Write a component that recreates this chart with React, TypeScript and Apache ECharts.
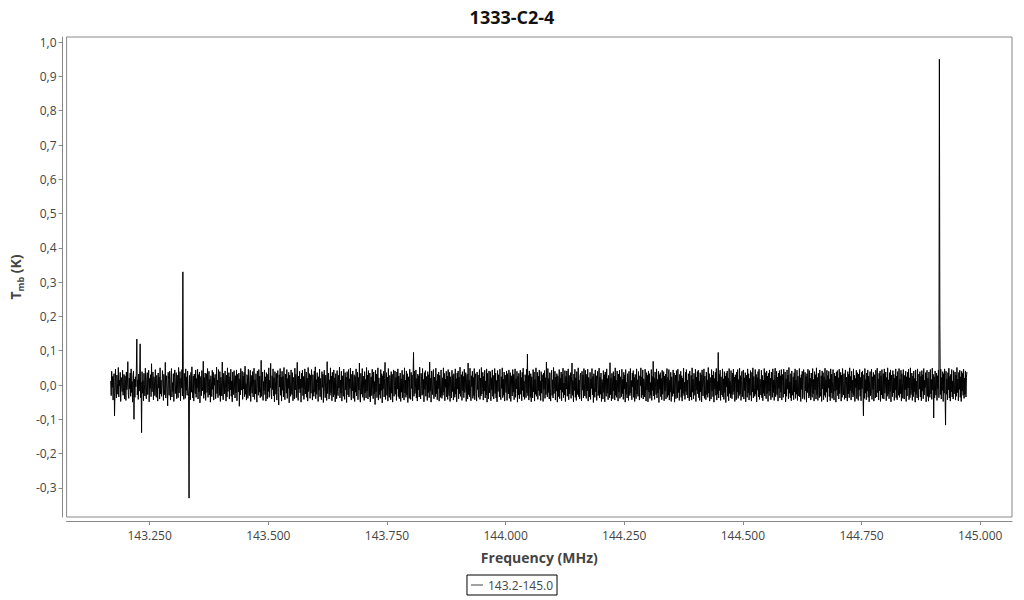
import React, { useEffect, useRef } from "react";
import * as echarts from "echarts";

// Spectrum sampling (channel frequencies in MHz)
const freqStart = 143.168;
const freqStep = 0.001;

// Main-beam temperature, in mK, read channel by channel (segments of 200 channels)
const tmbSegA = [
  12,-31,40,-7,25,-44,18,33,-90,-21, 46,-12,-38,29,5,-27,51,-35,14,-3,
  37,-48,22,9,-19,43,-30,-8,31,-41, 27,16,-45,38,-14,3,68,-26,-39,20,
  -11,35,-33,47,-22,10,-50,28,41,-100, 17,-36,24,-5,44,134,-29,15,-42,32,
  -18,26,120,-37,8,-139,39,-24,13,-46, 34,2,-32,49,-15,-40,21,36,-28,6,
  43,-49,19,-10,30,-34,62,-20,-2,38, -43,24,11,-31,45,-17,-36,28,4,-47,
  35,-9,23,-41,50,-26,14,-33,-6,42, 18,-45,31,-13,-29,66,-38,9,27,-22,
  -61,37,16,-30,40,-11,-44,25,48,-35, 7,-19,33,-48,21,44,-25,-3,36,-40,
  29,-14,-37,51,-23,12,39,-46,20,-8, 45,-32,330,-27,-42,34,10,-39,47,-16,
  24,-30,41,-5,-34,-330,28,15,-43,37, -21,53,-12,-38,26,-47,32,3,-25,44,
  -36,19,-9,46,-41,30,-20,38,-52,13, 25,-31,42,-17,-4,69,-39,22,-27,35,
];
const tmbSegB = [
  -45,11,33,-22,48,-36,-7,40,-29,17, -50,27,6,-34,43,-13,37,-44,21,-1,
  31,-40,-18,52,-25,14,-37,45,-9,-30, 39,-48,23,8,-32,67,-21,-43,34,16,
  -26,41,-11,-47,29,-35,50,-19,2,36, -41,24,-14,46,-33,12,-49,38,19,-28,
  42,-6,-38,27,-23,44,-46,31,9,-20, 35,-62,18,-29,48,-15,-3,40,-42,26,
  -12,37,-34,55,-27,4,-44,30,22,-39, 46,-17,-31,13,43,-48,28,-8,-24,39,
  -35,20,49,-42,15,-26,33,-11,-50,41, 7,-30,45,-21,26,-37,-4,72,-33,18,
  38,-45,10,-16,44,-28,24,-47,36,1, -40,31,-19,50,-36,14,-9,63,-25,-41,
  27,-13,47,-32,21,-49,39,6,-27,34, -44,16,42,-22,-58,30,-6,48,-30,23,
  -47,40,-15,25,-35,51,-18,-43,32,11, -24,45,-39,19,-10,37,-52,29,8,-33,
  44,-20,-28,36,-46,22,13,-41,49,-14, 31,-37,3,66,-29,-45,26,-12,40,-23,
];
const tmbSegC = [
  17,-50,34,-8,43,-31,25,-42,-16,47, -26,9,38,-36,20,-47,51,-19,-5,33,
  -39,28,-24,45,12,-44,30,-11,-33,41, -21,53,-40,16,-27,36,4,-48,24,-15,
  46,-34,19,-29,-43,39,-7,31,-51,22, 43,-18,-37,29,10,-45,68,-25,-2,35,
  -41,15,-30,50,-22,26,-46,37,-12,-35, 44,-28,21,-49,33,5,-40,42,-19,-31,
  28,-9,52,-38,14,-24,40,-47,27,-6, -33,46,-20,-42,36,-14,23,-51,39,11,
  -29,45,-35,18,-10,49,-26,-44,31,-17, 41,-39,8,30,-48,25,-21,47,-32,-4,
  37,-43,22,-15,64,-30,-50,34,13,-27, 48,-36,26,-9,-45,39,-23,16,-38,51,
  -18,29,-41,42,-7,-34,35,-49,20,24, -31,46,-13,-40,38,-26,10,-57,43,-20,
  32,-37,15,50,-44,21,-28,3,-39,45, -16,33,-52,27,-11,40,-35,19,66,-42,
  -8,36,-30,23,-47,48,-19,-36,28,12, -43,39,-24,31,-50,17,44,-33,-1,41,
];
const tmbSegD = [
  -27,22,-45,38,-12,47,-34,26,-40,9, 35,-48,18,-21,43,-37,30,-6,-44,50,
  -23,14,-36,41,-29,33,-51,24,8,-39, 46,-17,-42,37,-10,29,-46,21,95,-33,
  40,-25,-8,44,-38,19,-47,32,-14,27, -35,52,-20,-41,34,11,-30,48,-27,16,
  -49,36,-13,42,-33,25,-4,-45,39,-22, 30,-37,67,-18,20,-50,41,-9,-28,35,
  45,-40,23,-16,-34,49,-26,13,-43,31, -11,38,-47,28,6,-36,44,-24,-39,21,
  -30,50,-21,34,-46,17,-7,40,-35,26, -42,45,-15,-31,37,-48,24,10,-38,43,
  -19,28,-44,33,-2,-36,47,-27,19,-49, 35,-12,41,-40,23,-25,52,-33,-8,30,
  -45,39,-17,25,-37,46,-22,-9,36,-48, 18,31,-41,64,-28,14,-34,49,-20,-46,
  27,-5,40,-39,22,-31,48,-43,15,33, -24,-47,38,-13,29,-36,6,45,-42,20,
  -32,51,-26,-11,37,-44,26,-18,43,-38, 12,-29,47,-50,34,-3,-40,41,-23,16,
];
const tmbSegE = [
  39,-46,21,-14,44,-33,28,-41,-7,48, -25,35,-38,13,-49,42,-19,30,3,-35,
  46,-28,-43,24,-10,50,-37,17,-30,38, -47,29,9,-22,41,-45,33,-15,-26,44,
  -39,20,36,-48,27,-6,-32,45,-21,31, -43,14,47,-36,18,-11,40,-50,25,-29,
  34,-40,-4,43,-27,22,-46,37,-16,49, -34,11,-42,30,19,-37,46,-23,90,-31,
  28,-44,41,-12,-36,33,-49,24,5,-38, 45,-20,38,-47,16,-27,50,-33,-9,37,
  -42,26,-17,44,-31,12,-45,39,-24,30, 8,-48,35,-13,42,-39,21,-28,67,-6,
  -35,48,-22,19,-41,36,-11,-47,29,43, -30,15,-38,51,-25,-3,40,-44,23,-18,
  33,-50,27,10,-34,45,-40,20,-14,38, -46,31,-21,49,-37,6,-29,42,-48,25,
  -12,41,-33,17,47,-43,28,-26,-8,36, -39,24,64,-30,13,-49,32,-16,46,-36,
  21,-45,39,-7,-28,50,-34,14,-41,27, 35,-23,-46,40,-15,29,-38,48,4,-32,
];
const tmbSegF = [
  43,-26,-39,31,-17,46,-47,22,9,-35, 37,-42,18,-10,48,-29,25,-51,33,-4,
  -36,44,-20,27,-45,12,40,-31,-14,49, -38,23,-27,35,-48,16,6,-41,42,-22,
  30,-49,38,-15,-33,47,-24,19,-43,28, -3,-37,65,-28,21,-46,34,11,-40,39,
  -18,26,-44,50,-30,14,-36,41,-9,-47, 32,-21,43,-39,24,2,-34,46,-25,17,
  -42,37,-12,29,-50,45,-27,8,-38,33, 20,-45,40,-16,-31,48,-23,13,-43,35,
  -6,42,-36,22,-48,31,-19,-40,47,-26, 15,-33,39,-11,-44,27,-2,50,-37,24,
  -29,44,-41,18,10,-35,46,-24,-47,36, -14,28,-49,41,-20,33,-39,7,-30,45,
  -45,25,-16,69,-32,21,-42,38,-8,-28, 47,-38,16,-23,40,-51,30,-13,36,-34,
  19,-43,43,-27,-5,39,-46,26,-18,32, -41,11,48,-36,22,-30,45,-44,14,-21,
  37,-48,24,-9,-33,44,-25,35,-50,18, 29,-40,42,-17,-37,46,-22,12,-45,31,
];
const tmbSegG = [
  -13,40,-36,27,-47,20,-24,49,-31,8, -42,37,-19,45,-29,14,-38,33,25,-46,
  41,-11,-35,28,-44,50,-21,17,-40,34, -7,-30,46,-48,23,-15,39,-26,43,-37,
  12,-45,36,-20,30,-49,44,-3,-32,21, 47,-39,26,-14,-43,38,-28,15,-36,51,
  -24,33,-47,22,4,-41,45,-18,29,-34, 40,-50,19,-12,37,-30,48,-44,10,-27,
  95,-38,31,-16,43,-45,24,-9,-29,47, -35,18,-42,39,-22,26,-51,34,-6,41,
  -33,20,-46,48,-25,11,-37,42,-14,-40, 35,-28,46,-19,23,-48,30,2,-43,38,
  -21,45,-39,16,-31,49,-26,27,-45,13, 40,-34,-10,44,-41,21,-17,36,-49,29,
  8,-36,47,-23,33,-44,19,-30,42,-12, -47,37,-20,50,-38,25,-8,-33,45,-27,
  31,-49,22,-15,39,-35,46,-42,17,5, -29,43,-37,28,-46,14,-24,48,-32,36,
  -11,-40,41,-25,26,-48,34,-18,44,-31, 20,-43,38,-7,-36,47,-22,15,-45,30,
];
const tmbSegH = [
  49,-34,-16,40,-28,23,-47,35,-10,42, -38,27,-21,45,-44,12,31,-36,46,-19,
  -26,38,-49,18,-33,44,-12,29,-41,51, -24,9,-37,33,-46,41,-15,-30,24,-43,
  36,-20,47,-39,14,-27,43,-45,26,-6, -32,48,-35,21,-48,30,-13,40,-40,19,
  45,-29,-42,37,-17,25,-50,33,-22,46, 11,-38,42,-31,20,-44,35,-8,-36,48,
  -25,16,-47,39,-14,30,-41,50,-28,22, -45,34,3,-37,44,-19,-33,27,-48,41,
  -11,36,-43,24,-30,49,-36,15,-21,43, -49,28,-9,40,-34,18,-46,47,-23,32,
  -39,10,45,-27,-44,35,-18,26,-50,38, -15,42,-31,21,-41,46,-25,-4,37,-47,
  29,-36,48,-20,-29,33,-42,17,44,-38, 23,-12,-47,39,-26,31,-37,50,-16,25,
  -44,40,-23,14,-35,47,-30,28,-48,19, -8,43,-40,36,-21,-45,32,-14,45,-33,
  22,-46,37,-11,41,-27,-90,30,-39,48, -24,16,-43,35,-18,44,-36,26,-49,13,
];
const tmbSegI = [
  39,-31,-20,46,-42,24,-13,37,-47,30, 9,-38,43,-26,-35,49,-22,18,-44,34,
  -17,41,-48,27,-29,45,-39,12,33,-41, 47,-24,-10,38,-46,22,-33,50,-27,15,
  -40,36,-19,44,-49,29,-6,-34,42,-23, 31,-45,20,-15,47,-37,26,-43,39,-12,
  -30,48,-36,17,-25,43,-47,33,5,-39, 45,-21,-41,28,-14,40,-48,24,-32,37,
  -9,46,-43,21,-37,50,-28,-16,35,-45, 26,-34,41,-20,19,-50,44,-27,11,-38,
  47,-23,-44,32,-12,39,-35,25,-46,42, -18,30,-40,48,-29,14,-7,36,-49,27,
  43,-33,20,-47,38,-21,-36,45,-26,16, -42,49,-15,31,-96,24,-38,41,-19,-30,
  35,-45,27,-11,44,-37,950,180,-28,46, -41,22,-16,39,-48,33,-24,47,-32,-117,
  40,-27,18,-43,36,-14,49,-38,25,-47, 31,-20,45,-35,12,-41,42,-26,-9,38,
  -44,29,-33,51,-22,17,-46,37,-13,43, -36,24,-48,40,-18,34,-30,46,-39,20,
];
const tmbSegJ = [-27,41,-35,23,38];

const seriesName = "143.2-145.0";
const xTicks = [143.25, 143.5, 143.75, 144.0, 144.25, 144.5, 144.75, 145.0];
const yTicks = [-0.3, -0.2, -0.1, 0.0, 0.1, 0.2, 0.3, 0.4, 0.5, 0.6, 0.7, 0.8, 0.9, 1.0];

const FONT = "'Open Sans', 'Noto Sans', sans-serif";

export default function App() {
  const ref = useRef<HTMLDivElement>(null);
  useEffect(() => {
    if (!ref.current) return;
    const chart = echarts.init(ref.current, undefined, { renderer: "svg" });
    const all = [
      ...tmbSegA, ...tmbSegB, ...tmbSegC, ...tmbSegD, ...tmbSegE,
      ...tmbSegF, ...tmbSegG, ...tmbSegH, ...tmbSegI, ...tmbSegJ,
    ];
    const data = all.map((v, i) => [freqStart + i * freqStep, v / 1000]);
    chart.setOption({
      animation: false,
      textStyle: { fontFamily: FONT },
      title: {
        text: "1333-C2-4",
        left: "center",
        top: 3,
        textStyle: { fontFamily: FONT, fontSize: 18, fontWeight: "bold", color: "#111" },
      },
      grid: {
        left: 66,
        top: 37,
        right: 12,
        bottom: 83,
        show: true,
        borderColor: "#888",
        borderWidth: 1,
        backgroundColor: "transparent",
      },
      legend: {
        data: [seriesName],
        left: "center",
        top: 575,
        borderColor: "#000",
        borderWidth: 1,
        padding: [4, 4],
        itemWidth: 12,
        itemHeight: 8,
        icon: "path://M0,0H12V1H0Z",
        itemStyle: { color: "#444" },
        textStyle: { fontFamily: FONT, fontSize: 12, color: "#444" },
      },
      xAxis: {
        type: "value",
        min: 143.075,
        max: 145.067,
        offset: 4,
        name: "Frequency (MHz)",
        nameLocation: "middle",
        nameGap: 29,
        nameTextStyle: { fontFamily: FONT, fontSize: 14, fontWeight: "bold", color: "#444" },
        axisLine: { show: true, onZero: false, lineStyle: { color: "#888", width: 1 } },
        axisTick: { show: true, length: 4, customValues: xTicks, lineStyle: { color: "#888" } },
        axisLabel: {
          customValues: xTicks,
          margin: 8,
          color: "#444",
          fontSize: 12,
          fontFamily: FONT,
          formatter: (v: number) => v.toFixed(3),
        },
        splitLine: { show: false },
      },
      yAxis: {
        type: "value",
        min: -0.385,
        max: 1.015,
        offset: 4,
        name: "{t|T}{s|mb}{t| (K)}",
        nameLocation: "middle",
        nameRotate: 90,
        nameGap: 24,
        nameTextStyle: {
          fontFamily: FONT,
          color: "#444",
          rich: {
            t: { fontFamily: FONT, fontSize: 14, fontWeight: "bold", color: "#444", lineHeight: 20, verticalAlign: "middle" },
            s: { fontFamily: FONT, fontSize: 9, fontWeight: "bold", color: "#444", lineHeight: 20, verticalAlign: "bottom" },
          },
        },
        axisLine: { show: true, onZero: false, lineStyle: { color: "#888", width: 1 } },
        axisTick: { show: true, length: 4, customValues: yTicks, lineStyle: { color: "#888" } },
        axisLabel: {
          customValues: yTicks,
          margin: 6,
          color: "#444",
          fontSize: 12,
          fontFamily: FONT,
          formatter: (v: number) => (Math.abs(v) < 1e-9 ? 0 : v).toFixed(1).replace(".", ","),
        },
        splitLine: { show: false },
      },
      series: [
        {
          name: seriesName,
          type: "line",
          data,
          symbol: "none",
          showSymbol: false,
          lineStyle: { color: "#000", width: 1 },
          itemStyle: { color: "#000" },
          emphasis: { disabled: true },
        },
      ],
    });
    return () => chart.dispose();
  }, []);
  return (
    <div
      ref={ref}
      style={{ position: "fixed", left: 0, top: 0, width: 1024, height: 600, background: "#fff" }}
    />
  );
}
